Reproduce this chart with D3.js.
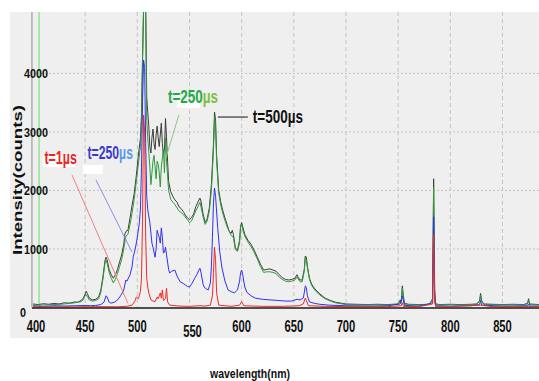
<!DOCTYPE html>
<html>
<head>
<meta charset="utf-8">
<script src="https://cdn.jsdelivr.net/npm/d3@7"></script>
<style>
  body { margin: 0; background: #fff; }
  text { font-family: "Liberation Sans", Arial, sans-serif; font-weight: bold; }
</style>
</head>
<body>
<svg id="chart" width="539" height="381"></svg>
<script>
// wavelength (nm), counts
var black500 = [[400,60],[405,50],[410,65],[415,55],[420,70],[425,60],[430,80],[435,75],[440,95],[443,90],[446,120],[448,150],[450,230],[451,280],[452,240],[454,160],[457,130],[460,140],[463,180],[465,300],[467,520],[469,800],[470,860],[471,820],[473,650],[475,560],[477,500],[479,560],[481,650],[483,780],[485,900],[487,1080],[488,1250],[489,1300],[491,1320],[493,1530],[495,1750],[497,1950],[499,2250],[501,2600],[503,2900],[504,3300],[505,4200],[506,5100],[507,5300],[508,5200],[509,3600],[510,3330],[511,3100],[512,2750],[513,2640],[514,2900],[515,3050],[516,2800],[517,2700],[518,2950],[519,3100],[520,2900],[521,2750],[522,2950],[523,3150],[524,2800],[525,2600],[526,2700],[527,3230],[528,2900],[529,2500],[530,2150],[532,1980],[534,1900],[536,1840],[538,1800],[540,1720],[542,1690],[544,1640],[546,1580],[548,1530],[550,1500],[552,1540],[554,1600],[556,1720],[558,1800],[560,1870],[561,1820],[563,1600],[565,1450],[567,1520],[569,1700],[571,2100],[573,2800],[574,3340],[575,3200],[576,2600],[578,2000],[580,1800],[582,1650],[584,1530],[586,1420],[588,1300],[590,1270],[591,1320],[592,1250],[594,1020],[596,980],[598,1150],[599,1400],[600,1450],[601,1380],[603,1250],[606,1150],[609,1080],[612,980],[615,860],[618,740],[621,640],[624,650],[627,660],[630,640],[633,620],[636,560],[639,510],[642,480],[645,470],[648,480],[651,500],[653,560],[654,520],[656,470],[658,470],[660,650],[661,880],[662,860],[663,700],[665,500],[667,400],[670,320],[675,230],[680,160],[685,120],[690,90],[695,75],[700,60],[710,55],[720,50],[730,55],[740,50],[750,60],[752,130],[753,90],[754,370],[755,200],[756,70],[760,55],[770,50],[780,55],[783,150],[784,2200],[785,300],[786,60],[790,50],[800,55],[810,50],[820,55],[825,60],[828,110],[829,240],[830,120],[832,60],[840,55],[850,50],[860,55],[870,50],[874,70],[875,150],[876,60],[885,50]];

var green250 = [[400,40],[410,45],[420,50],[430,60],[440,80],[446,100],[448,130],[450,200],[451,220],[452,190],[454,130],[457,110],[460,120],[463,150],[465,260],[467,480],[469,760],[470,810],[471,760],[473,600],[475,500],[477,420],[479,480],[481,580],[483,700],[485,820],[487,1000],[489,1220],[491,1250],[493,1420],[495,1620],[497,1850],[499,2150],[501,2450],[503,2750],[504,3200],[505,4300],[506,5150],[507,5300],[508,5000],[509,3200],[510,2900],[511,2650],[512,2400],[513,2100],[514,2300],[515,2500],[516,2600],[517,2400],[518,2200],[519,2500],[520,2450],[521,2300],[522,2060],[523,2400],[524,2550],[525,2700],[526,2300],[527,2900],[528,2500],[530,2000],[532,1850],[534,1800],[536,1760],[540,1650],[544,1590],[548,1500],[550,1450],[552,1480],[556,1650],[558,1720],[560,1800],[561,1720],[563,1550],[565,1420],[567,1480],[569,1650],[571,2000],[573,2700],[574,3250],[575,3100],[576,2500],[578,1950],[580,1750],[582,1600],[586,1380],[590,1230],[592,1200],[594,990],[596,960],[598,1100],[599,1380],[600,1420],[601,1330],[603,1220],[606,1120],[609,1040],[612,940],[615,830],[618,700],[621,600],[624,610],[627,610],[630,600],[633,580],[636,520],[639,480],[642,450],[645,440],[648,450],[651,470],[653,520],[654,490],[656,440],[658,440],[660,620],[661,860],[662,820],[663,680],[665,480],[667,380],[670,300],[675,210],[680,150],[685,110],[690,80],[695,65],[700,50],[710,45],[720,45],[730,50],[740,45],[750,55],[752,110],[753,80],[754,330],[755,170],[756,60],[760,50],[770,45],[780,50],[783,140],[784,2050],[785,260],[786,55],[790,45],[800,50],[810,45],[820,50],[825,55],[828,100],[829,210],[830,100],[832,55],[840,50],[850,45],[860,50],[870,45],[874,60],[875,120],[876,50],[885,45]];

var blue250 = [[400,25],[410,20],[420,30],[430,25],[440,30],[450,35],[455,30],[460,35],[465,50],[468,90],[470,200],[471,180],[473,90],[475,75],[478,90],[481,130],[484,200],[487,300],[489,470],[490,450],[492,520],[493,560],[495,700],[496,860],[498,1000],[500,1200],[502,1450],[503,1700],[504,2400],[505,3500],[506,4230],[507,4100],[508,2800],[509,1900],[510,1670],[512,1450],[514,1100],[515,1030],[517,860],[518,1000],[519,1320],[520,1250],[521,1200],[522,1100],[523,1360],[524,1200],[525,930],[526,950],[527,1030],[528,900],[530,650],[531,590],[533,620],[536,640],[538,540],[541,440],[544,410],[546,385],[548,360],[550,350],[552,400],[555,500],[557,560],[559,640],[560,670],[561,600],[563,400],[564,350],[566,320],[568,300],[570,420],[571,700],[572,1200],[573,1800],[574,2040],[575,1900],[577,1370],[579,950],[581,690],[584,450],[587,300],[590,270],[593,250],[596,300],[598,450],[599,600],[600,640],[601,560],[603,350],[605,260],[609,200],[613,160],[620,140],[627,130],[635,120],[642,110],[648,110],[653,140],[656,130],[659,160],[660,250],[661,370],[662,340],[663,200],[665,95],[670,70],[675,55],[684,40],[700,30],[720,25],[740,30],[752,60],[754,200],[756,35],[770,25],[783,80],[784,1550],[785,150],[786,30],[800,25],[820,30],[828,50],[829,120],[830,40],[850,25],[874,30],[875,60],[876,25],[885,25]];

var red1 = [[400,10],[420,12],[440,10],[460,15],[480,12],[490,20],[495,40],[498,120],[499,180],[501,150],[502,210],[503,280],[504,500],[505,1500],[506,3290],[507,3000],[508,1200],[509,500],[510,350],[511,250],[513,130],[515,110],[517,100],[519,180],[520,150],[521,200],[522,250],[523,160],[524,300],[525,120],[527,150],[528,330],[529,100],[531,40],[540,25],[550,20],[560,30],[565,25],[570,40],[572,200],[573,600],[574,1030],[575,800],[576,250],[578,40],[590,20],[598,40],[600,100],[602,30],[620,20],[640,20],[655,30],[659,60],[661,160],[662,120],[664,30],[680,20],[700,15],[740,15],[753,30],[754,80],[755,20],[770,15],[783,60],[784,1250],[785,90],[786,15],[800,15],[829,40],[840,15],[885,15]];

var xTicks = [400, 450, 500, 550, 600, 650, 700, 750, 800, 850];
var yTicks = [0, 1000, 2000, 3000, 4000];
var xGrid = [450, 500, 550, 600, 650, 700, 750, 800, 850];
var yGrid = [1000, 2000, 3000, 4000];

var series = [
  { data: black500, color: "#3c3c3c" },
  { data: green250, color: "#2f9a3a" },
  { data: blue250,  color: "#3030ee" },
  { data: red1,     color: "#ee2a2a" }
];

var svg = d3.select("#chart");

var x = d3.scaleLinear().domain([400, 885]).range([33, 539]);
var y = d3.scaleLinear().domain([0, 5050]).range([307.5, 12]);

// condensed look: squeeze text horizontally around its anchor
function squeeze(sel, px, py, sx) {
  sel.attr("transform", function(d, i) {
    return "translate(" + px(d, i) + "," + py(d, i) + ") scale(" + sx + ",1)";
  });
}

// plot background
svg.append("rect")
  .attr("x", 10).attr("y", 12)
  .attr("width", 529).attr("height", 326)
  .attr("fill", "#efefef");

// grid
svg.append("g").selectAll("line").data(xGrid).enter().append("line")
  .attr("x1", d => x(d)).attr("x2", d => x(d))
  .attr("y1", 12).attr("y2", y(0))
  .attr("stroke", "#c4c4c4").attr("stroke-dasharray", "4,3");
svg.append("g").selectAll("line").data(yGrid).enter().append("line")
  .attr("x1", x(400)).attr("x2", 539)
  .attr("y1", d => y(d)).attr("y2", d => y(d))
  .attr("stroke", "#c4c4c4").attr("stroke-dasharray", "2,2");

// left axis line and green cursor line
svg.append("line")
  .attr("x1", x(399)).attr("x2", x(399)).attr("y1", 12).attr("y2", y(0))
  .attr("stroke", "#8a8a8a");
svg.append("line")
  .attr("x1", x(405.8)).attr("x2", x(405.8)).attr("y1", 12).attr("y2", y(0))
  .attr("stroke", "#7ee27e").attr("stroke-width", 1.2);

svg.append("clipPath").attr("id", "clip")
  .append("rect").attr("x", x(400)).attr("y", 12).attr("width", 539 - x(400)).attr("height", y(0) - 12 + 2);

var line = d3.line()
  .x(d => x(d[0]))
  .y(d => y(d[1]));

svg.append("g").attr("clip-path", "url(#clip)")
  .selectAll("path").data(series).enter().append("path")
  .attr("d", d => line(d.data))
  .attr("fill", "none")
  .attr("stroke", d => d.color)
  .attr("stroke-width", 1)
  .attr("stroke-linejoin", "round");

// x axis baseline
svg.append("line")
  .attr("x1", x(399)).attr("x2", 539).attr("y1", y(0) + 0.5).attr("y2", y(0) + 0.5)
  .attr("stroke", "#1a1a1a").attr("stroke-width", 1.5);

// x tick labels
svg.append("g").selectAll("text").data(xTicks).enter().append("text")
  .attr("text-anchor", "middle")
  .attr("font-size", 16)
  .attr("fill", "#111")
  .text(d => d)
  .call(squeeze, d => x(d) + (d === 550 ? 3 : d === 400 ? 3 : 0), d => d === 550 ? 337 : 332, 0.7);

// y tick labels
svg.append("g").selectAll("text").data(yTicks).enter().append("text")
  .attr("text-anchor", "end")
  .attr("font-size", 13.5)
  .attr("fill", "#111")
  .text(d => d)
  .call(squeeze, d => d === 0 ? 26 : 48, d => y(d) + (d === 0 ? 9 : 5), 0.8);

// axis titles
svg.append("text")
  .attr("transform", "translate(22,180) rotate(-90)")
  .attr("text-anchor", "middle")
  .attr("font-size", 12.5)
  .attr("textLength", 150)
  .attr("lengthAdjust", "spacingAndGlyphs")
  .attr("fill", "#111")
  .text("Intensity(counts)");
svg.append("text")
  .attr("text-anchor", "middle")
  .attr("font-size", 13)
  .attr("fill", "#111")
  .text("wavelength(nm)")
  .call(squeeze, () => 250, () => 378, 0.81);

// annotations: leader lines
var leaders = [
  { from: [437.4, 2265], to: [491, 70], color: "#f08080" },
  { from: [460.3, 2180], to: [494.8, 950], color: "#8c8cf0" },
  { from: [539.8, 3290], to: [527.4, 2555], color: "#8cc48c" },
  { from: [577.2, 3255], to: [605.9, 3255], color: "#111" }
];
svg.append("g").selectAll("line").data(leaders).enter().append("line")
  .attr("x1", d => x(d.from[0])).attr("y1", d => y(d.from[1]))
  .attr("x2", d => x(d.to[0])).attr("y2", d => y(d.to[1]))
  .attr("stroke", d => d.color).attr("stroke-width", 1);

// white patches left over around the labels
var patches = [[43, 155, 32, 12], [83, 165, 20, 9], [177, 100, 23, 8]];
svg.append("g").selectAll("rect").data(patches).enter().append("rect")
  .attr("x", d => d[0]).attr("y", d => d[1]).attr("width", d => d[2]).attr("height", d => d[3])
  .attr("fill", "#fff");

var labels = [
  { at: [411.0, 2460], main: "t=1", unit: "µs", c1: "#ee2222", c2: "#ee2222", sx: 0.69 },
  { at: [452.2, 2540], main: "t=250", unit: "µs", c1: "#3a3acc", c2: "#5a9ae8", sx: 0.68 },
  { at: [529.3, 3500], main: "t=250", unit: "µs", c1: "#22a84a", c2: "#7cc040", sx: 0.75 },
  { at: [610.7, 3150], main: "t=500", unit: "µs", c1: "#111", c2: "#111", sx: 0.75 }
];
var lab = svg.append("g").selectAll("text").data(labels).enter().append("text")
  .attr("font-size", 18);
lab.each(function(d) {
  d3.select(this).call(squeeze, () => x(d.at[0]), () => y(d.at[1]), d.sx);
});
lab.append("tspan").attr("fill", d => d.c1).text(d => d.main);
lab.append("tspan").attr("fill", d => d.c2).text(d => d.unit);
</script>
</body>
</html>
